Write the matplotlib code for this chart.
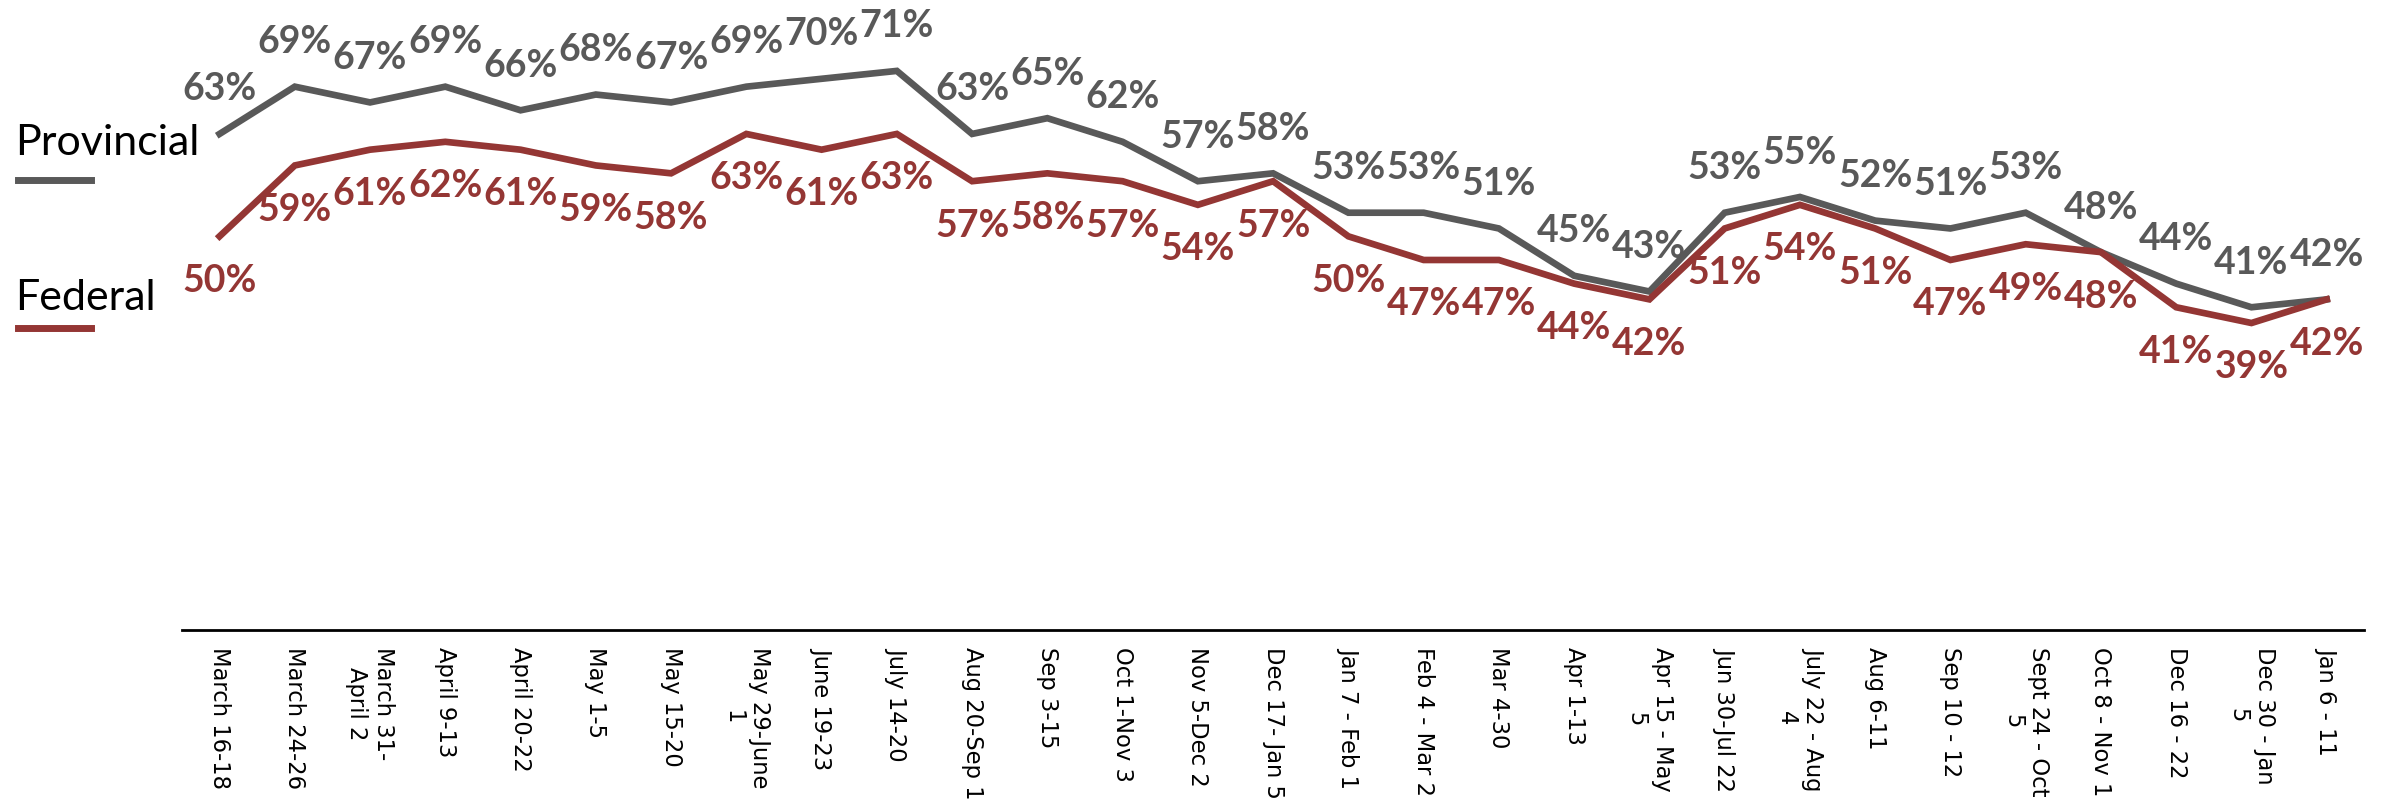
import numpy as np
import matplotlib as mpl
import matplotlib.pyplot as plt
from matplotlib.lines import Line2D

periods = [
    "March 16-18", "March 24-26", "March 31-\nApril 2", "April 9-13", "April 20-22",
    "May 1-5", "May 15-20", "May 29-June\n1", "June 19-23", "July 14-20",
    "Aug 20-Sep 1", "Sep 3-15", "Oct 1-Nov 3", "Nov 5-Dec 2", "Dec 17- Jan 5",
    "Jan 7 - Feb 1", "Feb 4 - Mar 2", "Mar 4-30", "Apr 1-13", "Apr 15 - May\n5",
    "Jun 30-Jul 22", "July 22 - Aug\n4", "Aug 6-11", "Sep 10 - 12", "Sept 24 - Oct\n5",
    "Oct 8 - Nov 1", "Dec 16 - 22", "Dec 30 - Jan\n5", "Jan 6 - 11",
]
provincial = [63, 69, 67, 69, 66, 68, 67, 69, 70, 71, 63, 65, 62, 57, 58,
              53, 53, 51, 45, 43, 53, 55, 52, 51, 53, 48, 44, 41, 42]
federal = [50, 59, 61, 62, 61, 59, 58, 63, 61, 63, 57, 58, 57, 54, 57,
           50, 47, 47, 44, 42, 51, 54, 51, 47, 49, 48, 41, 39, 42]

gray = "#595959"
red = "#943634"

fig = plt.figure(figsize=(23.81, 8.07), dpi=100)
ax = fig.add_axes([0.0764, 0.219, 0.9166, 0.781])

x = np.arange(len(periods))
ax.plot(x, provincial, color=gray, lw=4.8, solid_joinstyle="miter")
ax.plot(x, federal, color=red, lw=4.8, solid_joinstyle="miter")

for i in range(len(periods)):
    ax.annotate(f"{provincial[i]}%", (x[i], provincial[i]), xytext=(0, 32),
                textcoords="offset points", ha="center", va="center",
                color=gray, fontsize=27, fontweight="bold", family="Lato")
    ax.annotate(f"{federal[i]}%", (x[i], federal[i]), xytext=(0, -32),
                textcoords="offset points", ha="center", va="center",
                color=red, fontsize=27, fontweight="bold", family="Lato")

ax.set_xlim(-0.5, len(periods) - 0.5)
ax.set_ylim(0, 80)
ax.set_xticks(x)
ax.set_xticklabels(periods, rotation=270, ha="center", va="top",
                   multialignment="center", fontsize=16.3, family="DejaVu Sans")
ax.tick_params(axis="x", length=0, pad=12)
ax.set_yticks([])
for s in ["top", "right", "left"]:
    ax.spines[s].set_visible(False)
ax.spines["bottom"].set_linewidth(2)
ax.spines["bottom"].set_color("black")

# legend drawn as text + short line segments on the left
fig.text(0.0063, 0.808, "Provincial", fontsize=31, family="Lato", va="baseline")
fig.add_artist(Line2D([0.0076, 0.0382], [0.777, 0.777], color=gray, lw=5))
fig.text(0.0063, 0.616, "Federal", fontsize=31, family="Lato", va="baseline")
fig.add_artist(Line2D([0.0076, 0.0382], [0.594, 0.594], color=red, lw=5))

fig.savefig("out.png", dpi=100)
